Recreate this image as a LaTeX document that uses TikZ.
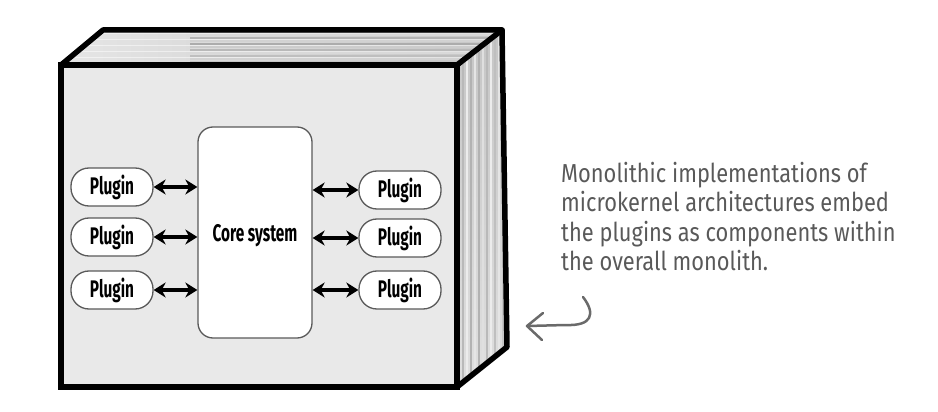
\documentclass[tikz,border=0pt]{standalone}
\usepackage{fontspec}
\newfontfamily\plugfont[FakeStretch=0.64]{Fira Sans}
\newfontfamily\notefont[FakeStretch=0.84]{Fira Sans}
\usetikzlibrary{arrows.meta}
\definecolor{facegray}{HTML}{E9E9E9}
\definecolor{edgegray}{HTML}{5A5A5A}
\definecolor{notegray}{HTML}{595959}
\begin{document}
\begin{tikzpicture}[x=1pt,y=-1pt,
  plugbox/.style={draw=edgegray, line width=1.3pt, fill=white, rounded corners=18pt,
    minimum width=82pt, minimum height=38pt, inner sep=0pt,
    font=\plugfont\bfseries\fontsize{24}{27}\selectfont},
  corebox/.style={draw=edgegray, line width=1.3pt, fill=white, rounded corners=15pt,
    minimum width=114pt, minimum height=211pt, inner sep=0pt,
    font=\plugfont\bfseries\fontsize{24}{27}\selectfont},
  biarrow/.style={line width=3.2pt, {Stealth[length=12pt,width=15pt]}-{Stealth[length=12pt,width=15pt]}},
  boxedge/.style={line width=5.5pt, line join=round, line cap=round},
  notearrow/.style={draw=notegray!90, line width=2.5pt, line cap=round, line join=round}]
\useasboundingbox (0,0) rectangle (938,412);
% corners of the box
\coordinate (A) at (61,65);
\coordinate (B) at (103,30);
\coordinate (C) at (502,30);
\coordinate (D) at (457,65);
\coordinate (E) at (507,347);
\coordinate (F) at (457,387);
% top face
\shade[left color=gray!20, right color=gray!45] (A) -- (B) -- (C) -- (D) -- cycle;
\begin{scope}
  \clip (A) -- (B) -- (C) -- (D) -- cycle;
  \foreach \y/\c in {32/55,35/30,38/60,41/35,44/65,47/40,50/55,53/30,56/50,59/35,62/45}
    \draw[gray!\c, line width=1.2pt] (190,\y) -- (505,\y);
  \foreach \y in {33.5,39.5,45.5,51.5,57.5,63}
    \draw[white, opacity=0.5, line width=0.8pt] (60,\y) -- (505,\y);
\end{scope}
% right face
\shade[top color=gray!45, bottom color=gray!25] (D) -- (C) -- (E) -- (F) -- cycle;
\begin{scope}
  \clip (D) -- (C) -- (E) -- (F) -- cycle;
  \foreach \x/\c in {463/55,467/15,471/60,475/20,479/60,483/25,487/55,491/15,495/50,499/20,503/45}
    \draw[gray!\c, line width=2pt] (\x,25) -- (\x,395);
\end{scope}
% front face
\draw[fill=facegray, line width=6pt] (A) rectangle (F);
\draw[boxedge] (A) -- (B) -- (C) -- (E) -- (F);
\draw[boxedge] (C) -- (D);
% core and plugins
\node[corebox] (core) at (255,232.5) {};
\node[font=\plugfont\bfseries\fontsize{24}{27}\selectfont, inner sep=0pt] (coretext) at (255,236) {Core system};
\node[plugbox] (pl1) at (112,187) {Plugin};
\node[plugbox] (pl2) at (112,237) {Plugin};
\node[plugbox] (pl3) at (112,290) {Plugin};
\node[plugbox] (pr1) at (400,190) {Plugin};
\node[plugbox] (pr2) at (400,238) {Plugin};
\node[plugbox] (pr3) at (400,290) {Plugin};
\foreach \p in {pl1,pl2,pl3}
  \draw[biarrow] (\p.east) -- (\p.east -| core.west);
\foreach \p in {pr1,pr2,pr3}
  \draw[biarrow] (core.east |- \p.west) -- (\p.west);
% annotation
\node[anchor=north west, inner sep=0pt, align=left, text=notegray,
  font=\notefont\fontsize{26}{29.5}\selectfont] (note) at (561,162)
  {Monolithic implementations of\\microkernel architectures embed\\the plugins as components within\\the overall monolith.};
\coordinate (ctail) at (583,297);
\coordinate (ctip) at (527,326);
\draw[notearrow] (ctail) .. controls (596,314) and (592,326) .. (566,325) -- (ctip);
\draw[notearrow] (543,313) -- (ctip) -- (542,340);
\end{tikzpicture}
\end{document}
